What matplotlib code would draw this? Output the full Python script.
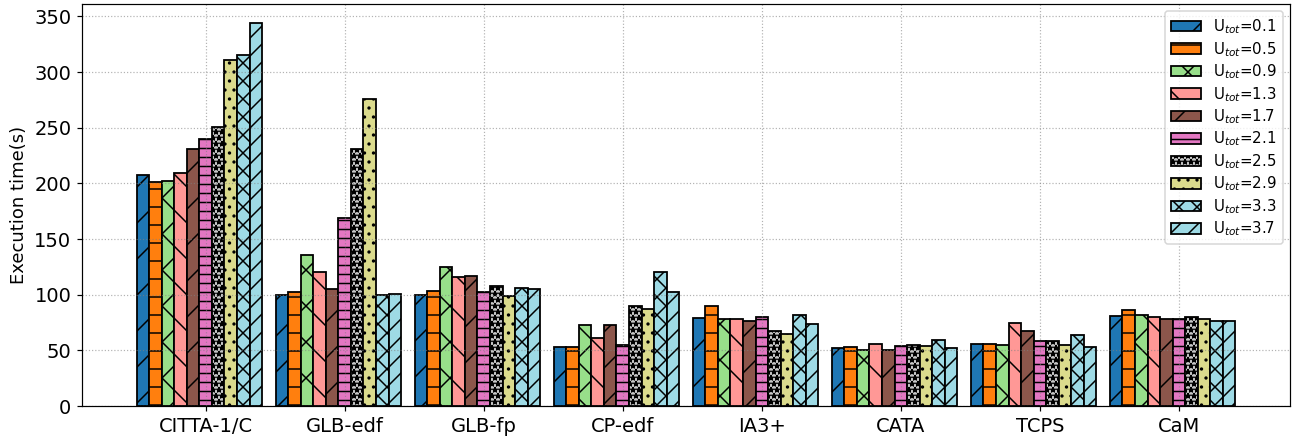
import numpy as np
import matplotlib
matplotlib.use('Agg')
import matplotlib.pyplot as plt

methods = ['CITTA-1/C', 'GLB-edf', 'GLB-fp', 'CP-edf', 'IA3+', 'CATA', 'TCPS', 'CaM']
utils = ['0.1', '0.5', '0.9', '1.3', '1.7', '2.1', '2.5', '2.9', '3.3', '3.7']

# execution time (s), one list per method, in order of U_tot
citta = [208, 201, 202, 209, 231, 240, 251, 311, 315, 344]
glb_edf = [100, 102, 136, 120, 105, 169, 231, 276, 100, 101]
glb_fp = [100, 103, 125, 116, 117, 102, 108, 99, 106, 105]
cp_edf = [53, 53, 73, 61, 73, 55, 90, 87, 120, 102]
ia3 = [79, 90, 78, 78, 76, 80, 67, 65, 82, 74]
cata = [52, 53, 50, 56, 50, 54, 55, 54, 59, 52]
tcps = [56, 56, 55, 75, 67, 58, 58, 55, 64, 53]
cam = [81, 86, 82, 80, 78, 78, 80, 78, 76, 76]

data = np.array([citta, glb_edf, glb_fp, cp_edf, ia3, cata, tcps, cam])

colors = ['#1f77b4', '#ff7f0e', '#98df8a', '#ff9896', '#8c564b',
          '#e377c2', '#c7c7c7', '#dbdb8d', '#9edae5', '#9edae5']
hatches = ['/', '-', 'x', '\\', '/', '--', '***', '..', 'xx', '//']

fig = plt.figure(figsize=(1294 / 108, 440 / 108), dpi=108)
ax = fig.add_axes([82 / 1294, 34 / 440, 1208 / 1294, 402 / 440])

x = np.arange(len(methods))
w = 0.09
for i, u in enumerate(utils):
    ax.bar(x + (i - 5) * w, data[:, i], w, color=colors[i], hatch=hatches[i],
           edgecolor='black', linewidth=1.2, label='U$_{tot}$=' + u)

ax.set_xticks(x)
ax.set_xticklabels(methods, fontsize=13)
ax.tick_params(axis='y', labelsize=13)
ax.set_ylabel('Execution time(s)', fontsize=12)
ax.grid(linestyle=':', linewidth=0.8, color='gray', alpha=0.6)
ax.legend(loc='upper right', fontsize=10, labelspacing=0.25)

fig.savefig('out.png', dpi=108)
